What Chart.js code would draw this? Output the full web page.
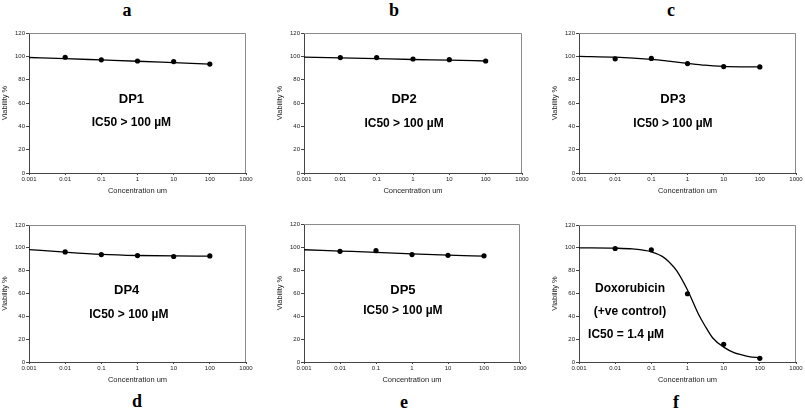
<!DOCTYPE html>
<html>
<head>
<meta charset="utf-8">
<script src="https://cdn.jsdelivr.net/npm/chart.js@4.4.1/dist/chart.umd.min.js"></script>
<style>
  html, body { margin: 0; padding: 0; background: #fff; }
  body { width: 805px; height: 418px; position: relative; overflow: hidden; }
  canvas { position: absolute; }
  .tag { position: absolute; font: bold 18px "Liberation Serif", "DejaVu Serif", serif; transform: translate(-50%, -50%); }
</style>
</head>
<body>
<div class="tag" style="left:127px;top:10px">a</div>
<div class="tag" style="left:394px;top:10px">b</div>
<div class="tag" style="left:671px;top:10px">c</div>
<div class="tag" style="left:137px;top:401px">d</div>
<div class="tag" style="left:404px;top:402px">e</div>
<div class="tag" style="left:676px;top:402px">f</div>

<canvas id="pa"></canvas>
<canvas id="pb"></canvas>
<canvas id="pc"></canvas>
<canvas id="pd"></canvas>
<canvas id="pe"></canvas>
<canvas id="pf"></canvas>

<script>
// tested concentrations (uM) and axis ticks
const conc = [0.01, 0.1, 1, 10, 100];
const xTicks = [0.001, 0.01, 0.1, 1, 10, 100, 1000];
const yTicks = [0, 20, 40, 60, 80, 100, 120];

// measured viability %
const dp1 = [99.2, 97.0, 96.0, 95.5, 93.4];
const dp2 = [98.9, 98.9, 97.7, 97.1, 96.0];
const dp3 = [97.9, 98.2, 93.8, 91.2, 90.9];
const dp4 = [96.4, 94.1, 93.2, 92.4, 92.9];
const dp5 = [96.2, 96.8, 93.4, 92.8, 92.3];
const dox = [99.4, 98.3, 59.8, 15.5, 3.2];

// fitted curves
const fitConc = [0.001, 0.01, 0.1, 1, 10, 100];
const fit1 = [99.0, 98.0, 96.9, 95.8, 94.6, 93.4];
const fit2 = [99.3, 98.7, 98.0, 97.3, 96.7, 96.0];
const fit4 = [98.5, 96.2, 94.3, 93.3, 92.9, 92.8];
const fit5 = [97.6, 96.5, 95.4, 94.1, 93.0, 92.0];
const fitConc3 = [0.001, 0.01, 0.1, 0.3, 1, 3, 10, 30, 100];
const fit3 = [100, 99.3, 97.4, 95.9, 94.0, 92.4, 91.4, 91.0, 90.9];
const fitConcDox = [0.001, 0.01, 0.03, 0.1, 0.2, 0.3, 0.5, 1, 2, 3, 5, 10, 20, 30, 50, 100];
const fitDox = [100, 99.7, 99.0, 96.5, 92.5, 88, 80, 63, 42, 32, 21, 13, 8, 6.5, 4.8, 3.7];

const FONT = '"Liberation Sans", Arial, sans-serif';

// plot rectangles on the page: [left, top, right, bottom]
const panels = [
  { id: 'pa', rect: [29, 33, 246, 173], pts: dp1, fx: fitConc, fy: fit1,
    notes: [['DP1', 0.472, 0.471, 13], ['IC50 > 100 µM', 0.472, 0.643, 12]] },
  { id: 'pb', rect: [304, 33, 522, 173], pts: dp2, fx: fitConc, fy: fit2,
    notes: [['DP2', 0.459, 0.471, 13], ['IC50 > 100 µM', 0.459, 0.65, 12]] },
  { id: 'pc', rect: [579, 33, 796, 173], pts: dp3, fx: fitConc3, fy: fit3,
    notes: [['DP3', 0.433, 0.471, 13], ['IC50 > 100 µM', 0.433, 0.65, 12]] },
  { id: 'pd', rect: [29, 225, 246, 362], pts: dp4, fx: fitConc, fy: fit4,
    notes: [['DP4', 0.45, 0.48, 13], ['IC50 > 100 µM', 0.46, 0.652, 12]] },
  { id: 'pe', rect: [304, 224, 520, 362], pts: dp5, fx: fitConc, fy: fit5,
    notes: [['DP5', 0.458, 0.478, 13], ['IC50 > 100 µM', 0.458, 0.63, 12]] },
  { id: 'pf', rect: [579, 225, 796, 362], pts: dox, fx: fitConcDox, fy: fitDox,
    notes: [['Doxorubicin', 0.235, 0.467, 12], ['(+ve control)', 0.235, 0.633, 12], ['IC50 = 1.4 µM', 0.217, 0.80, 12]] }
];

const padL = 30, padT = 14, padR = 9, padB = 40;

const decor = {
  id: 'decor',
  afterDraw(chart) {
    const ctx = chart.ctx, a = chart.chartArea, p = chart.options.plugins.decor;
    ctx.save();
    // light frame on top and right
    ctx.strokeStyle = '#8a8a8a';
    ctx.lineWidth = 1;
    ctx.beginPath();
    ctx.moveTo(a.left, a.top + 0.5);
    ctx.lineTo(a.right - 0.5, a.top + 0.5);
    ctx.lineTo(a.right - 0.5, a.bottom);
    ctx.stroke();
    // axis titles
    ctx.fillStyle = '#222';
    ctx.textAlign = 'center';
    ctx.textBaseline = 'middle';
    ctx.font = '7.5px ' + FONT;
    ctx.fillText('Concentration um', (a.left + a.right) / 2, a.bottom + 18);
    ctx.save();
    ctx.translate(a.left - 24, (a.top + a.bottom) / 2);
    ctx.rotate(-Math.PI / 2);
    ctx.fillText('Viability %', 0, 0);
    ctx.restore();
    // labels inside plot
    ctx.fillStyle = '#000';
    p.notes.forEach(([txt, fx, fy, size]) => {
      ctx.font = 'bold ' + size + 'px ' + FONT;
      ctx.fillText(txt, a.left + fx * (a.right - a.left), a.top + fy * (a.bottom - a.top));
    });
    ctx.restore();
  }
};

function build(p) {
  const [l, t, r, b] = p.rect;
  const cv = document.getElementById(p.id);
  const w = r - l + padL + padR, h = b - t + padT + padB;
  cv.style.left = (l - padL) + 'px';
  cv.style.top = (t - padT) + 'px';
  cv.width = w;
  cv.height = h;

  const tickFont = { family: FONT, size: 6 };
  new Chart(cv, {
    type: 'scatter',
    data: {
      datasets: [
        {
          data: p.fx.map((x, i) => ({ x: x, y: p.fy[i] })),
          showLine: true, borderColor: '#000', borderWidth: 1.3,
          pointRadius: 0, cubicInterpolationMode: 'monotone', fill: false
        },
        {
          data: conc.map((x, i) => ({ x: x, y: p.pts[i] })),
          showLine: false, pointRadius: 2.6, backgroundColor: '#000',
          borderColor: '#000', borderWidth: 0
        }
      ]
    },
    options: {
      responsive: false,
      animation: false,
      layout: { padding: { left: 0, top: padT, right: padR, bottom: 0 } },
      plugins: { legend: { display: false }, tooltip: { enabled: false }, decor: { notes: p.notes } },
      scales: {
        x: {
          type: 'logarithmic', min: 0.001, max: 1000,
          afterBuildTicks: s => { s.ticks = xTicks.map(v => ({ value: v })); },
          afterFit: s => { s.height = padB; s.paddingLeft = 0; s.paddingRight = 0; },
          ticks: { callback: v => String(v), font: tickFont, color: '#222', padding: 1, maxRotation: 0, autoSkip: false },
          grid: { drawOnChartArea: false, drawTicks: true, tickLength: 2, color: '#444' },
          border: { color: '#444', width: 1 }
        },
        y: {
          min: 0, max: 120,
          afterBuildTicks: s => { s.ticks = yTicks.map(v => ({ value: v })); },
          afterFit: s => { s.width = padL; s.paddingTop = 0; s.paddingBottom = 0; },
          ticks: { font: tickFont, color: '#222', padding: 1 },
          grid: { drawOnChartArea: false, drawTicks: true, tickLength: 3, color: '#444' },
          border: { color: '#444', width: 1 }
        }
      }
    },
    plugins: [decor]
  });
}

panels.forEach(build);
</script>
</body>
</html>
